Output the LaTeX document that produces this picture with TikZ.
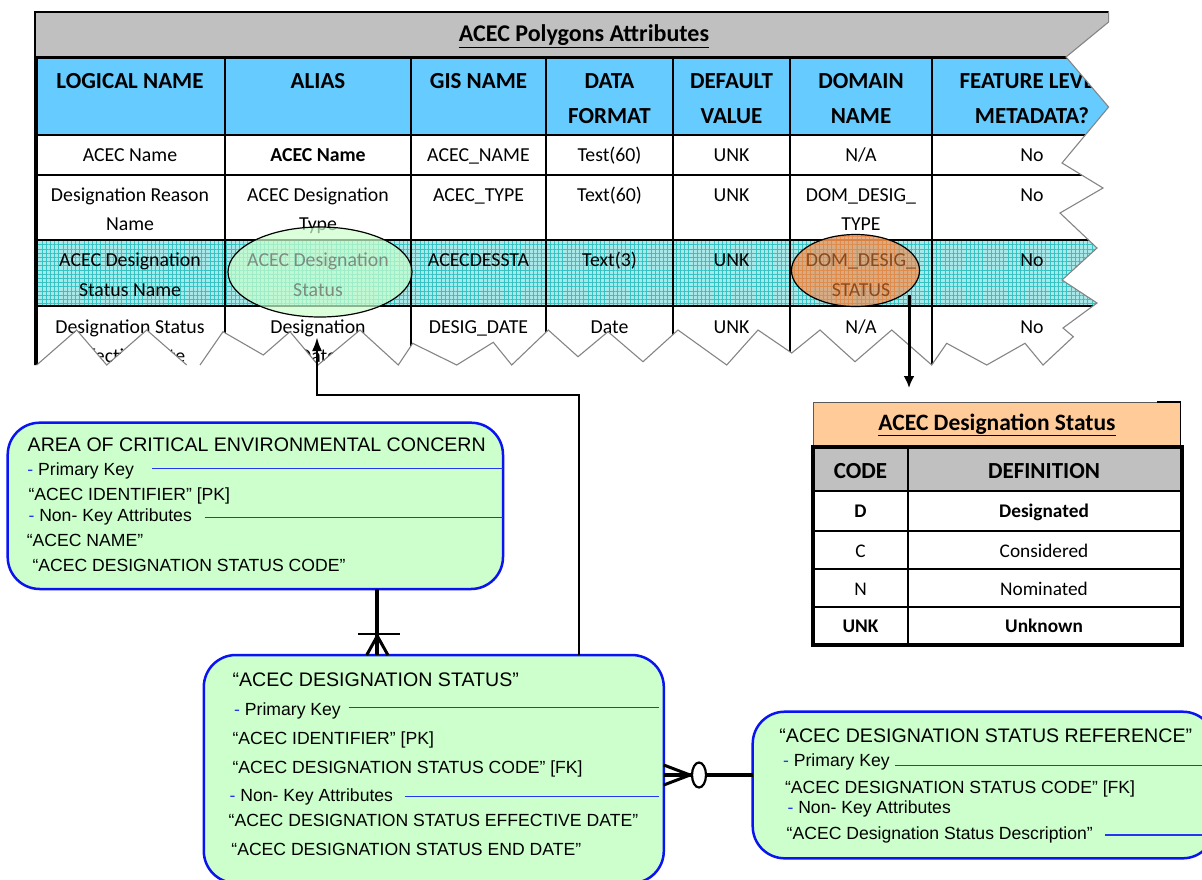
\documentclass[tikz,border=0pt]{standalone}
\usepackage{fontspec}
\setmainfont{Carlito}
\newfontfamily\arialf{Liberation Sans}
\usetikzlibrary{arrows.meta,patterns.meta}
\definecolor{graybar}{HTML}{C0C0C0}
\definecolor{headblue}{HTML}{66CCFF}
\definecolor{rowcyan}{HTML}{A8E8E8}
\definecolor{gridcyan}{HTML}{36C2C2}
\definecolor{egreen}{HTML}{CCFFCC}
\definecolor{eblue}{HTML}{0A14F0}
\definecolor{lblue}{HTML}{2436F0}
\definecolor{orangebar}{HTML}{FFCC99}
\definecolor{orangeell}{HTML}{E0A274}
\definecolor{orangegrid}{HTML}{EE7A2A}
\definecolor{tornline}{HTML}{858585}
\definecolor{fadetext}{HTML}{7E8C80}
\definecolor{browntext}{HTML}{8A4A1E}
\begin{document}
\begin{tikzpicture}[x=1pt,y=-1pt,
  th/.style={inner sep=0pt, anchor=base, font=\fontsize{23}{23}\selectfont\bfseries},
  td/.style={inner sep=0pt, anchor=base, font=\fontsize{19.8}{19.8}\selectfont},
  tdb/.style={inner sep=0pt, anchor=base, font=\fontsize{19.8}{19.8}\selectfont\bfseries},
  dd/.style={inner sep=0pt, anchor=base, font=\fontsize{19.3}{19.3}\selectfont},
  ddb/.style={inner sep=0pt, anchor=base, font=\fontsize{19.3}{19.3}\selectfont\bfseries},
  ebox/.style={draw=eblue, fill=egreen, line width=2.5pt, rounded corners=32pt, inner sep=0pt, outer sep=0pt, anchor=north west},
  et/.style={inner sep=0pt, anchor=base west, font=\arialf\fontsize{17.6}{17.6}\selectfont},
  etitle/.style={inner sep=0pt, anchor=base west, font=\arialf\fontsize{19.6}{19.6}\selectfont},
  keyrule/.style={draw=lblue, line width=1.1pt},
  conn/.style={draw=black, line width=2.5pt},
  torn/.style={draw=tornline, line width=1.1pt, line join=miter},
  cell/.style={draw=black, line width=1.5pt}
]
\useasboundingbox (0,0) rectangle (1202,879);

% ================= ACEC Polygons Attributes table =================
\begin{scope}
\clip (30,5) -- (1108.6,5) -- (1108.6,22) -- (1066,57) -- (1108.6,107) -- (1062,163) -- (1103,188)
  -- (1060,213) -- (1097,248) -- (1062,280) -- (1097,303) -- (1063,328) -- (1073.3,336.7) -- (1043,365)
  -- (1025,343.3) -- (986.7,365) -- (946.7,343.3) -- (931.7,365) -- (891.7,330) -- (855,361.7)
  -- (820,330) -- (791.7,353) -- (758,330) -- (726.7,365) -- (678,330) -- (643,361.7) -- (608,331.7)
  -- (578,356.7) -- (548.3,330) -- (511.7,365) -- (493.3,342.3) -- (456.7,365) -- (412.7,343.3)
  -- (398.3,365) -- (360,330) -- (318,365) -- (290,331.7) -- (263.3,355) -- (223,331.7) -- (200,365)
  -- (186.7,365) -- (146.7,330) -- (106.7,365) -- (76.7,330) -- (36.7,365) -- (30,365) -- cycle;
\fill[graybar] (35,12) rectangle (1140,56);
\fill[headblue] (35,59) rectangle (1140,135);
\fill[white] (35,135) rectangle (1140,240);
\fill[rowcyan] (35,240) rectangle (1140,306);
\fill[pattern={Hatch[angle=0,distance=4.2pt,line width=0.8pt]}, pattern color=gridcyan] (35,240) rectangle (1140,306);
\fill[white] (35,306) rectangle (1140,370);
\draw[black, line width=1.2pt] (1140,12) -- (35,12) -- (35,57);
\draw[black, line width=3.5pt] (35,57.5) -- (1140,57.5);
\foreach \yy in {135,175,240,306} \draw[cell] (35,\yy) -- (1140,\yy);
\foreach \xx in {225,411,546,673,790,932} \draw[cell] (\xx,59) -- (\xx,370);
\draw[black, line width=4.5pt] (35.8,56) -- (35.8,370);

% header
\node[th] (hLog) at (130,88) {LOGICAL NAME};
\node[th] (hAli) at (318,88) {ALIAS};
\node[th] (hGis) at (478.5,88) {GIS NAME};
\node[th] (hFmt1) at (609.5,88) {DATA};
\node[th] (hFmt2) at (609.5,123) {FORMAT};
\node[th] (hDef1) at (731.5,88) {DEFAULT};
\node[th] (hDef2) at (731.5,123) {VALUE};
\node[th] (hDom1) at (861,88) {DOMAIN};
\node[th] (hDom2) at (861,123) {NAME};
\node[th] (hFea1) at (1032,88) {FEATURE LEVEL};
\node[th] (hFea2) at (1032,123) {METADATA?};
% row 1
\node[td] (r1a) at (130,161) {ACEC Name};
\node[tdb] (r1b) at (318,161) {ACEC Name};
\node[td] (r1c) at (478.5,161) {ACEC\_NAME};
\node[td] (r1d) at (609.5,161) {Test(60)};
\node[td] (r1e) at (731.5,161) {UNK};
\node[td] (r1f) at (861,161) {N/A};
\node[td] (r1g) at (1032,161) {No};
% row 2
\node[td] (r2a1) at (130,201) {Designation Reason};
\node[td] (r2a2) at (130,230) {Name};
\node[td] (r2b1) at (318,201) {ACEC Designation};
\node[td] (r2b2) at (318,230) {Type};
\node[td] (r2c) at (478.5,201) {ACEC\_TYPE};
\node[td] (r2d) at (609.5,201) {Text(60)};
\node[td] (r2e) at (731.5,201) {UNK};
\node[td] (r2f1) at (861,201) {DOM\_DESIG\_};
\node[td] (r2f2) at (861,230) {TYPE};
\node[td] (r2g) at (1032,201) {No};
% row 3
\node[td] (r3a1) at (130,266.5) {ACEC Designation};
\node[td] (r3a2) at (130,296) {Status Name};
\node[td] (r3c) at (478.5,266.5) {ACECDESSTA};
\node[td] (r3d) at (609.5,266.5) {Text(3)};
\node[td] (r3e) at (731.5,266.5) {UNK};
\node[td] (r3g) at (1032,266.5) {No};
% row 4
\node[td] (r4a1) at (130,333) {Designation Status};
\node[td] (r4a2) at (130,362) {Effective Date};
\node[td] (r4b1) at (318,333) {Designation};
\node[td] (r4b2) at (318,362) {Date};
\node[td] (r4c) at (478.5,333) {DESIG\_DATE};
\node[td] (r4d) at (609.5,333) {Date};
\node[td] (r4e) at (731.5,333) {UNK};
\node[td] (r4f) at (861,333) {N/A};
\node[td] (r4g) at (1032,333) {No};

% highlight ellipses
\fill[egreen, opacity=0.7] (320,272) ellipse [x radius=92pt, y radius=45pt];
\draw[black, line width=1.2pt] (320,272) ellipse [x radius=92pt, y radius=45pt];
\node[td, text=fadetext] (r3b1) at (318,266.5) {ACEC Designation};
\node[td, text=fadetext] (r3b2) at (318,296) {Status};
\fill[orangeell, opacity=0.85] (855.5,270.5) ellipse [x radius=64pt, y radius=36pt];
\fill[pattern={Hatch[angle=0,distance=4.2pt,line width=0.6pt]}, pattern color=orangegrid, opacity=0.6] (855.5,270.5) ellipse [x radius=64pt, y radius=36pt];
\draw[black, line width=1.2pt] (855.5,270.5) ellipse [x radius=64pt, y radius=36pt];
\node[td, text=browntext] (r3f1) at (861,266.5) {DOM\_DESIG\_};
\node[td, text=browntext] (r3f2) at (861,296) {STATUS};
\end{scope}

\node[inner sep=0pt, anchor=base, font=\fontsize{24}{24}\selectfont\bfseries] (ttitle) at (584,41.5) {\underline{ACEC Polygons Attributes}};

% torn edges
\draw[torn] (1108.6,12) -- (1108.6,22) -- (1066,57) -- (1108.6,107) -- (1062,163) -- (1103,188)
  -- (1060,213) -- (1097,248) -- (1062,280) -- (1097,303) -- (1063,328) -- (1073.3,336.7) -- (1043,365)
  -- (1025,343.3) -- (986.7,365) -- (946.7,343.3) -- (931.7,365) -- (891.7,330) -- (855,361.7)
  -- (820,330) -- (791.7,353) -- (758,330) -- (726.7,365) -- (678,330) -- (643,361.7) -- (608,331.7)
  -- (578,356.7) -- (548.3,330) -- (511.7,365) -- (493.3,342.3) -- (456.7,365) -- (412.7,343.3)
  -- (398.3,365) -- (360,330) -- (318,365) -- (290,331.7) -- (263.3,355) -- (223,331.7) -- (200,365);
\draw[torn] (186.7,365) -- (146.7,330) -- (106.7,365) -- (76.7,330) -- (36.7,365);

% ================= ACEC Designation Status domain table =================
\fill[orangebar] (813,402) rectangle (1180,446);
\draw[black!65, line width=0.9pt] (813,446) -- (813,402) -- (1180,402);
\draw[black, line width=1.8pt] (1157,402) -- (1180.5,402) -- (1180.5,446);
\node[inner sep=0pt, anchor=base, font=\fontsize{23.5}{23.5}\selectfont\bfseries] (dtitle) at (997,430) {\underline{ACEC Designation Status}};
\fill[white] (813,447) rectangle (1182,645);
\fill[graybar] (813,447) rectangle (1182,491);
\foreach \yy in {491,531,569,607} \draw[black, line width=2pt] (813,\yy) -- (1182,\yy);
\draw[black, line width=2pt] (908,447) -- (908,645);
\draw[black, line width=4.5pt] (813,447) rectangle (1182,645);
\node[th] (dCode) at (860.5,478) {CODE};
\node[th] (dDef) at (1044,478) {DEFINITION};
\node[ddb] (dD) at (860.5,517) {D};
\node[ddb] (dDd) at (1044,517) {Designated};
\node[dd] (dC) at (860.5,557) {C};
\node[dd] (dCd) at (1044,557) {Considered};
\node[dd] (dN) at (860.5,595) {N};
\node[dd] (dNd) at (1044,595) {Nominated};
\node[ddb] (dU) at (860.5,632.5) {UNK};
\node[ddb] (dUd) at (1044,632.5) {Unknown};

% ================= entity boxes =================
\node[ebox, minimum width=495.3pt, minimum height=166.3pt] (area) at (7.7,422.7) {};
\node[etitle] (a0) at (27.5,451.7) {AREA OF CRITICAL ENVIRONMENTAL CONCERN};
\node[et] (a1) at (27.2,475) {\textcolor{lblue}{-} Primary Key};
\node[et] (a2) at (28.4,500.5) {“ACEC IDENTIFIER” [PK]};
\node[et] (a3) at (28.3,521.5) {\textcolor{lblue}{-} Non- Key Attributes};
\node[et] (a4) at (26.6,546.5) {“ACEC NAME”};
\node[et] (a5) at (32.3,571.5) {“ACEC DESIGNATION STATUS CODE”};
\draw[keyrule] (151.5,468.7) -- (area.east |- 0,468.7);
\draw[keyrule] (204.7,517.3) -- (area.east |- 0,517.3);

\node[ebox, minimum width=460pt, minimum height=228pt] (status) at (203.8,655) {};
\node[etitle] (s0) at (232.3,686) {“ACEC DESIGNATION STATUS”};
\node[et] (s1) at (234,715) {\textcolor{lblue}{-} Primary Key};
\node[et] (s2) at (232.3,744) {“ACEC IDENTIFIER” [PK]};
\node[et] (s3) at (232.3,773.3) {“ACEC DESIGNATION STATUS CODE” [FK]};
\node[et] (s4) at (229.5,801.7) {\textcolor{lblue}{-} Non- Key Attributes};
\node[et] (s5) at (228.5,826.7) {“ACEC DESIGNATION STATUS EFFECTIVE DATE”};
\node[et] (s6) at (231.2,855.7) {“ACEC DESIGNATION STATUS END DATE”};
\draw[keyrule] (348.5,707.7) -- (659,707.7);
\draw[keyrule] (405,796.7) -- (659,796.7);

\node[ebox, minimum width=462pt, minimum height=146.6pt] (ref) at (752.7,711.7) {};
\node[etitle] (f0) at (779.2,742.7) {“ACEC DESIGNATION STATUS REFERENCE”};
\node[et] (f1) at (782.9,766.7) {\textcolor{lblue}{-} Primary Key};
\node[et] (f2) at (784.8,793.3) {“ACEC DESIGNATION STATUS CODE” [FK]};
\node[et] (f3) at (787.3,813.3) {\textcolor{lblue}{-} Non- Key Attributes};
\node[et] (f4) at (786.5,839.3) {“ACEC Designation Status Description”};
\draw[keyrule] (895,765.7) -- (1203,765.7);
\draw[keyrule] (1105,835) -- (1203,835);

% ================= connectors =================
% area -> status : one to many (mandatory)
\coordinate (foot1) at (377.3,0);
\draw[line width=4pt] (area.south -| foot1) -- (status.north -| foot1);
\draw[line width=2pt] (358,634) -- (400,634);
\draw[line width=3pt] (366.7,655) -- (377.3,636) -- (387.9,655);

% status -> reference : zero-or-many
\coordinate (foot2) at (0,775);
\coordinate (circ2) at (699,775);
\draw[line width=4pt] (status.east |- foot2) -- (ref.west |- foot2);
\draw[line width=3pt] (663.8,765) -- (690,775) -- (663.8,785);
\draw[line width=2.2pt, fill=white] (circ2) ellipse [x radius=7pt, y radius=12.5pt];

% status -> alias in polygon table
\coordinate (bend1) at (579,395);
\coordinate (aliasTip) at (317,337);
\draw[conn, -{Latex[length=14pt,width=10pt]}] (status.north -| bend1) -- (bend1) -- (aliasTip |- bend1) -- (aliasTip);

% domain ellipse -> domain table
\coordinate (domStart) at (909,295);
\coordinate (domTip) at (909,388);
\draw[line width=3pt, -{Latex[length=12pt,width=11pt]}] (domStart) -- (domTip);
\end{tikzpicture}
\end{document}
